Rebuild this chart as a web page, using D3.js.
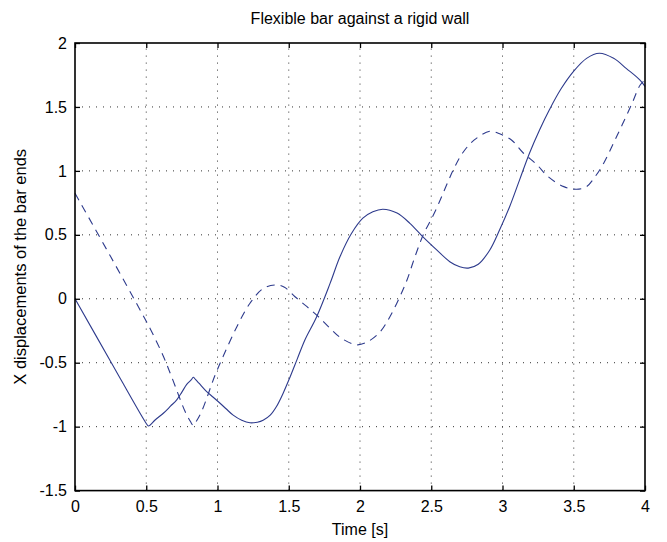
<!DOCTYPE html>
<html><head><meta charset="utf-8">
<script src="https://cdn.jsdelivr.net/npm/d3@7"></script>
<style>body{margin:0;background:#fff}svg{display:block}text{font-family:"Liberation Sans",Arial,Helvetica,sans-serif;fill:#000}</style>
</head><body>
<svg id="c" width="667" height="542"></svg>
<script>
const title = "Flexible bar against a rigid wall";
const xLabel = "Time [s]";
const yLabel = "X displacements of the bar ends";
const xTicks = [0,0.5,1,1.5,2,2.5,3,3.5,4];
const yTicks = [-1.5,-1,-0.5,0,0.5,1,1.5,2];

// solid: first bar end
const solidT = [0,0.25,0.5,0.515,0.53,0.56,0.62,0.67,0.714,0.75,0.784,0.815,0.83,0.845,0.87,0.924,0.97,1.018,1.06,1.11,1.17,1.228,1.28,1.32,1.37,1.415,1.46,1.51,1.56,1.614,1.696,1.79,1.86,1.94,2.02,2.09,2.16,2.26,2.35,2.44,2.54,2.63,2.70,2.76,2.83,2.91,2.98,3.05,3.12,3.19,3.26,3.33,3.41,3.50,3.59,3.68,3.78,3.87,3.965,4.0];
const solidX = [0,-0.49,-0.975,-0.995,-0.985,-0.95,-0.895,-0.84,-0.79,-0.73,-0.67,-0.635,-0.614,-0.63,-0.66,-0.726,-0.77,-0.817,-0.86,-0.91,-0.95,-0.97,-0.965,-0.95,-0.91,-0.84,-0.74,-0.61,-0.47,-0.32,-0.14,0.12,0.33,0.51,0.63,0.68,0.70,0.67,0.59,0.486,0.38,0.29,0.25,0.24,0.27,0.38,0.54,0.72,0.93,1.14,1.32,1.48,1.64,1.78,1.88,1.92,1.88,1.80,1.71,1.66];

// dashed: second bar end
const dashT = [0,0.25,0.468,0.526,0.62,0.678,0.772,0.81,0.83,0.85,0.889,0.982,1.04,1.135,1.228,1.32,1.41,1.47,1.544,1.626,1.708,1.789,1.871,1.977,2.047,2.14,2.21,2.28,2.33,2.386,2.444,2.526,2.60,2.66,2.72,2.80,2.91,2.98,3.065,3.146,3.24,3.32,3.43,3.52,3.59,3.65,3.71,3.78,3.84,3.91,3.965,4.0];
const dashX = [0.825,0.33,-0.11,-0.23,-0.45,-0.61,-0.88,-0.96,-0.99,-0.96,-0.88,-0.60,-0.45,-0.22,-0.035,0.08,0.108,0.09,0.016,-0.06,-0.14,-0.23,-0.31,-0.36,-0.34,-0.26,-0.14,0.017,0.147,0.33,0.50,0.68,0.87,1.02,1.14,1.24,1.31,1.29,1.24,1.14,1.05,0.955,0.877,0.856,0.877,0.955,1.06,1.22,1.36,1.53,1.67,1.71];

const svg = d3.select("#c");
const L=75, R=645, T=43, B=490.6;
const x = d3.scaleLinear().domain([0,4]).range([L,R]);
const y = d3.scaleLinear().domain([-1.5,2]).range([B,T]);
const lineCol = "#2d3a8c";

// grid
const g = svg.append("g");
g.selectAll(".gx").data(xTicks.slice(1,-1)).enter().append("line")
 .attr("x1",d=>x(d)).attr("x2",d=>x(d)).attr("y1",B).attr("y2",T)
 .attr("stroke","#333").attr("stroke-width",1).attr("stroke-dasharray","1,6");
g.selectAll(".gy").data(yTicks.slice(1,-1)).enter().append("line")
 .attr("y1",d=>y(d)).attr("y2",d=>y(d)).attr("x1",L).attr("x2",R)
 .attr("stroke","#333").attr("stroke-width",1).attr("stroke-dasharray","1,6");

// lines
const ln = d3.line().x(d=>x(d[0])).y(d=>y(d[1])).curve(d3.curveCatmullRom.alpha(0.5));
svg.append("path").datum(solidT.map((t,i)=>[t,solidX[i]]))
 .attr("d",ln).attr("fill","none").attr("stroke",lineCol).attr("stroke-width",1.1);
svg.append("path").datum(dashT.map((t,i)=>[t,dashX[i]]))
 .attr("d",ln).attr("fill","none").attr("stroke",lineCol).attr("stroke-width",1.1).attr("stroke-dasharray","8,6");

// axes
const fs = "16px";
const fmt = d => String(d);
const ax = svg.append("g").attr("transform",`translate(0,${B})`)
 .call(d3.axisBottom(x).tickValues(xTicks).tickFormat(fmt).tickSizeInner(-5).tickSizeOuter(0).tickPadding(10));
const axT = svg.append("g").attr("transform",`translate(0,${T})`)
 .call(d3.axisTop(x).tickValues(xTicks).tickFormat("").tickSizeInner(-5).tickSizeOuter(0));
const ay = svg.append("g").attr("transform",`translate(${L},0)`)
 .call(d3.axisLeft(y).tickValues(yTicks).tickFormat(fmt).tickSizeInner(-5).tickSizeOuter(0).tickPadding(8));
const ayR = svg.append("g").attr("transform",`translate(${R},0)`)
 .call(d3.axisRight(y).tickValues(yTicks).tickFormat("").tickSizeInner(-5).tickSizeOuter(0));
[ax,axT,ay,ayR].forEach(a=>{
 a.select(".domain").remove();
 a.selectAll("line").attr("stroke","#000").attr("stroke-width",1.3);
 a.selectAll("text").style("font-size",fs).attr("fill","#000").style("font-family",'"Liberation Sans",Arial,sans-serif');
});
ax.selectAll("text").attr("dy","0.71em");
svg.append("rect").attr("x",L).attr("y",T).attr("width",R-L).attr("height",B-T)
 .attr("fill","none").attr("stroke","#000").attr("stroke-width",1.6);

svg.append("text").attr("x",(L+R)/2).attr("y",24).attr("text-anchor","middle").style("font-size","16px").text(title);
svg.append("text").attr("x",(L+R)/2).attr("y",535).attr("text-anchor","middle").style("font-size","16px").text(xLabel);
svg.append("text").attr("transform",`translate(26,${(T+B)/2}) rotate(-90)`).attr("text-anchor","middle").style("font-size","16.5px").text(yLabel);
</script>
</body></html>
